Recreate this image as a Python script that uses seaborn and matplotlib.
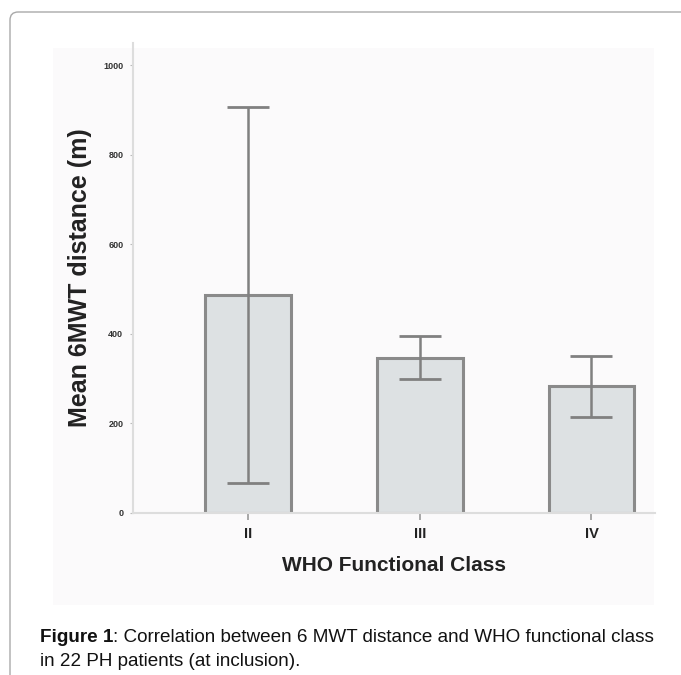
import matplotlib
matplotlib.use("Agg")
import matplotlib.pyplot as plt
import seaborn as sns
import pandas as pd
from matplotlib.patches import Rectangle, FancyBboxPatch

classes = ["II", "III", "IV"]
means = [487, 347, 283]
sds = [419, 48, 68]
yticks = [0, 200, 400, 600, 800, 1000]

sns.set_theme(style="white")
plt.rcParams['font.family'] = ['Liberation Sans', 'DejaVu Sans']

W, H = 681, 675
fig = plt.figure(figsize=(W / 100, H / 100), dpi=100)
fig.patch.set_facecolor("white")

# outer frame
frame = FancyBboxPatch((10 / W, -0.05), 1.1, (H - 12) / H + 0.05,
                       boxstyle="round,pad=0,rounding_size=0.012",
                       transform=fig.transFigure, facecolor="none",
                       edgecolor="#a9a9a9", linewidth=1.0, zorder=-10)
fig.patches.append(frame)
# light chart background
bg = Rectangle((53 / W, 1 - 605 / H), (654 - 53) / W, (605 - 48) / H,
               transform=fig.transFigure, facecolor="#fbfafb", edgecolor="none",
               zorder=-10)
fig.patches.append(bg)

ax = fig.add_axes([133 / W, 1 - 513 / H, (655 - 133) / W, (513 - 43) / H])
ax.set_facecolor("none")

df = pd.DataFrame({"cls": classes, "mean": means, "sd": sds})
sns.barplot(data=df, x="cls", y="mean", width=0.5, color="#dde1e3",
            saturation=1, edgecolor="#8a8a8a", linewidth=2.2,
            errorbar=None, ax=ax)
ax.errorbar(range(len(classes)), df["mean"], yerr=df["sd"], fmt="none",
            ecolor="#808080", elinewidth=1.8, capsize=15, capthick=2.0)

ax.set_xlim(-0.67, 2.37)
ax.set_ylim(0, 1050)
ax.set_yticks(yticks)
ax.set_yticklabels([str(t) for t in yticks], fontsize=6.5, fontweight="bold", color="#333333")
ax.tick_params(axis="y", direction="out", length=2, width=0.8, color="#bbbbbb", pad=5, left=True)
ax.tick_params(axis="x", direction="out", length=5, width=1.2, color="#999999", pad=5, bottom=True)
for lab in ax.get_xticklabels():
    lab.set_fontsize(10.5)
    lab.set_fontweight("bold")
    lab.set_color("#222222")

for s in ["top", "right"]:
    ax.spines[s].set_visible(False)
for s in ["left", "bottom"]:
    ax.spines[s].set_color("#dddddd")
    ax.spines[s].set_linewidth(1.5)

ax.set_xlabel("WHO Functional Class", fontsize=15, fontweight="bold", color="#222222", labelpad=11)
ax.set_ylabel("Mean 6MWT distance (m)", fontsize=18, fontweight="bold", color="#222222", labelpad=8)

# caption
fs = 13.6
t1 = fig.text(40 / W, 1 - 638 / H, "Figure 1", fontsize=fs, fontweight="bold",
              va="center", ha="left", color="#111111")
fig.canvas.draw()
bb = t1.get_window_extent()
fig.text(bb.x1 / fig.bbox.width, 1 - 638 / H,
         ": Correlation between 6 MWT distance and WHO functional class",
         fontsize=fs, va="center", ha="left", color="#111111")
fig.text(40 / W, 1 - 661 / H, "in 22 PH patients (at inclusion).",
         fontsize=fs, va="center", ha="left", color="#111111")

fig.savefig("out.png", dpi=100)
